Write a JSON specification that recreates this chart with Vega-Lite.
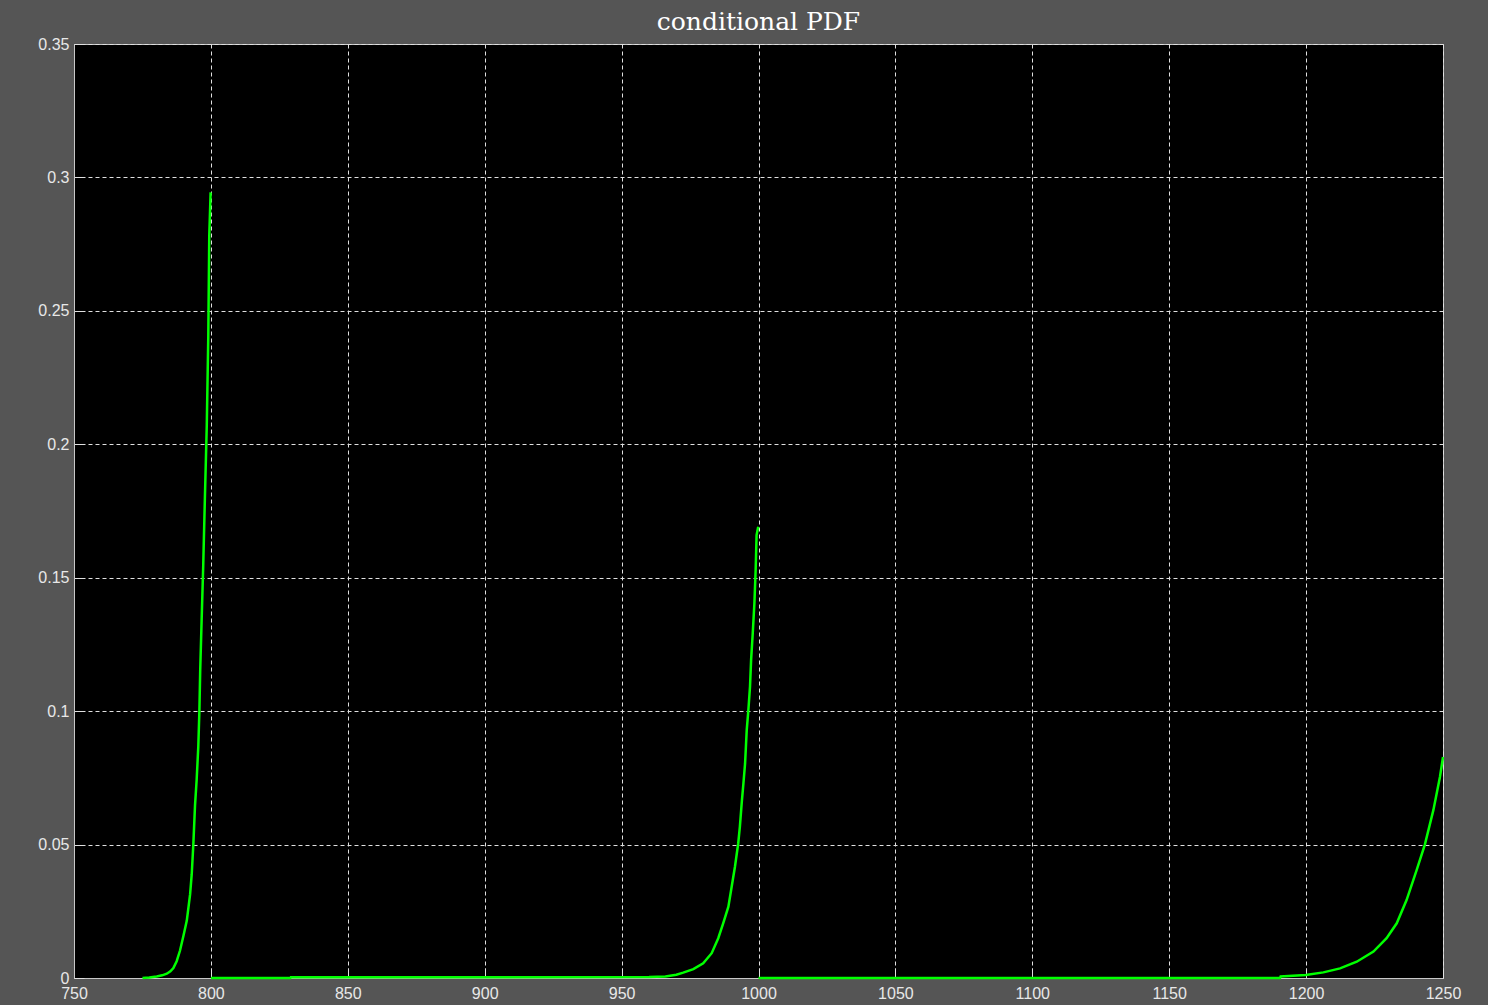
{
  "$schema": "https://vega.github.io/schema/vega-lite/v6.json",
  "width": 1369,
  "height": 934,
  "autosize": {"type": "none"},
  "padding": {"left": 74, "top": 44, "right": 45, "bottom": 27},
  "background": "#555555",
  "title": {
    "text": "conditional PDF",
    "font": "DejaVu Serif",
    "fontSize": 25,
    "fontWeight": "normal",
    "color": "#ffffff",
    "anchor": "middle",
    "offset": 1
  },
  "config": {
    "view": {"fill": "#000000", "stroke": "#c8c8c8", "strokeWidth": 1},
    "axis": {
      "domainColor": "#c8c8c8",
      "domainWidth": 1,
      "grid": true,
      "gridColor": "#e0e0e0",
      "gridDash": [4, 3],
      "gridOpacity": 1,
      "gridWidth": 1,
      "tickColor": "#e0e0e0",
      "tickSize": -10,
      "labelPadding": 15,
      "labelFlush": false,
      "labelOverlap": false,
      "labelColor": "#e8e8e8",
      "labelFont": "Liberation Sans",
      "labelFontSize": 16,
      "title": null,
      "zindex": 0
    }
  },
  "data": {
    "values": [
      {"s": "a", "x": 775, "y": 0},
      {"s": "a", "x": 777.5, "y": 0.0002},
      {"s": "a", "x": 780.2, "y": 0.0006},
      {"s": "a", "x": 782.2, "y": 0.001},
      {"s": "a", "x": 783.9, "y": 0.0016},
      {"s": "a", "x": 785.2, "y": 0.0025},
      {"s": "a", "x": 786.3, "y": 0.0037},
      {"s": "a", "x": 787.5, "y": 0.0063},
      {"s": "a", "x": 788.7, "y": 0.0102},
      {"s": "a", "x": 790.0, "y": 0.0159},
      {"s": "a", "x": 791.2, "y": 0.0215},
      {"s": "a", "x": 792.4, "y": 0.0313},
      {"s": "a", "x": 793.0, "y": 0.0389},
      {"s": "a", "x": 793.6, "y": 0.0504},
      {"s": "a", "x": 794.2, "y": 0.0647},
      {"s": "a", "x": 794.8, "y": 0.0743},
      {"s": "a", "x": 795.4, "y": 0.0868},
      {"s": "a", "x": 795.8, "y": 0.1002},
      {"s": "a", "x": 796.1, "y": 0.1155},
      {"s": "a", "x": 796.6, "y": 0.1336},
      {"s": "a", "x": 797.2, "y": 0.1547},
      {"s": "a", "x": 797.8, "y": 0.1796},
      {"s": "a", "x": 798.5, "y": 0.2073},
      {"s": "a", "x": 799.05, "y": 0.2408},
      {"s": "a", "x": 799.4, "y": 0.2781},
      {"s": "a", "x": 799.9, "y": 0.2944},
      {"s": "b", "x": 800, "y": 0},
      {"s": "b", "x": 829, "y": 0},
      {"s": "b", "x": 829.2, "y": 0.0003},
      {"s": "b", "x": 900, "y": 0.0003},
      {"s": "b", "x": 960, "y": 0.0004},
      {"s": "b", "x": 966, "y": 0.0006},
      {"s": "b", "x": 970, "y": 0.0012},
      {"s": "b", "x": 972.5, "y": 0.002},
      {"s": "b", "x": 976.2, "y": 0.0033},
      {"s": "b", "x": 979.8, "y": 0.0055},
      {"s": "b", "x": 982.9, "y": 0.0093},
      {"s": "b", "x": 985.3, "y": 0.0149},
      {"s": "b", "x": 987.1, "y": 0.0205},
      {"s": "b", "x": 989.0, "y": 0.0267},
      {"s": "b", "x": 990.2, "y": 0.0342},
      {"s": "b", "x": 991.4, "y": 0.0417},
      {"s": "b", "x": 992.6, "y": 0.0505},
      {"s": "b", "x": 993.2, "y": 0.0567},
      {"s": "b", "x": 993.9, "y": 0.066},
      {"s": "b", "x": 994.5, "y": 0.073},
      {"s": "b", "x": 995.1, "y": 0.0804},
      {"s": "b", "x": 995.7, "y": 0.0929},
      {"s": "b", "x": 996.3, "y": 0.1004},
      {"s": "b", "x": 996.9, "y": 0.1092},
      {"s": "b", "x": 997.3, "y": 0.1192},
      {"s": "b", "x": 997.9, "y": 0.1292},
      {"s": "b", "x": 998.5, "y": 0.1404},
      {"s": "b", "x": 998.96, "y": 0.1529},
      {"s": "b", "x": 999.3, "y": 0.166},
      {"s": "b", "x": 999.9, "y": 0.1691},
      {"s": "c", "x": 1000, "y": 0},
      {"s": "c", "x": 1190.5, "y": 0},
      {"s": "c", "x": 1190.7, "y": 0.0006},
      {"s": "c", "x": 1199.9, "y": 0.0011},
      {"s": "c", "x": 1206.3, "y": 0.0021},
      {"s": "c", "x": 1212.4, "y": 0.0036},
      {"s": "c", "x": 1218.5, "y": 0.0061},
      {"s": "c", "x": 1224.6, "y": 0.0099},
      {"s": "c", "x": 1229.4, "y": 0.0149},
      {"s": "c", "x": 1233.1, "y": 0.0205},
      {"s": "c", "x": 1236.7, "y": 0.0292},
      {"s": "c", "x": 1240.4, "y": 0.0405},
      {"s": "c", "x": 1243.4, "y": 0.0501},
      {"s": "c", "x": 1246.5, "y": 0.063},
      {"s": "c", "x": 1248.9, "y": 0.0754},
      {"s": "c", "x": 1250, "y": 0.0828}
    ]
  },
  "mark": {"type": "line", "color": "#00ff00", "strokeWidth": 2.5, "clip": false},
  "encoding": {
    "x": {
      "field": "x",
      "type": "quantitative",
      "scale": {"domain": [750, 1250], "nice": false, "zero": false},
      "axis": {"values": [750, 800, 850, 900, 950, 1000, 1050, 1100, 1150, 1200, 1250], "format": "d", "labelPadding": 17}
    },
    "y": {
      "field": "y",
      "type": "quantitative",
      "scale": {"domain": [0, 0.35], "nice": false},
      "axis": {"values": [0, 0.05, 0.1, 0.15, 0.2, 0.25, 0.3, 0.35], "format": "~g"}
    },
    "detail": {"field": "s"}
  }
}
